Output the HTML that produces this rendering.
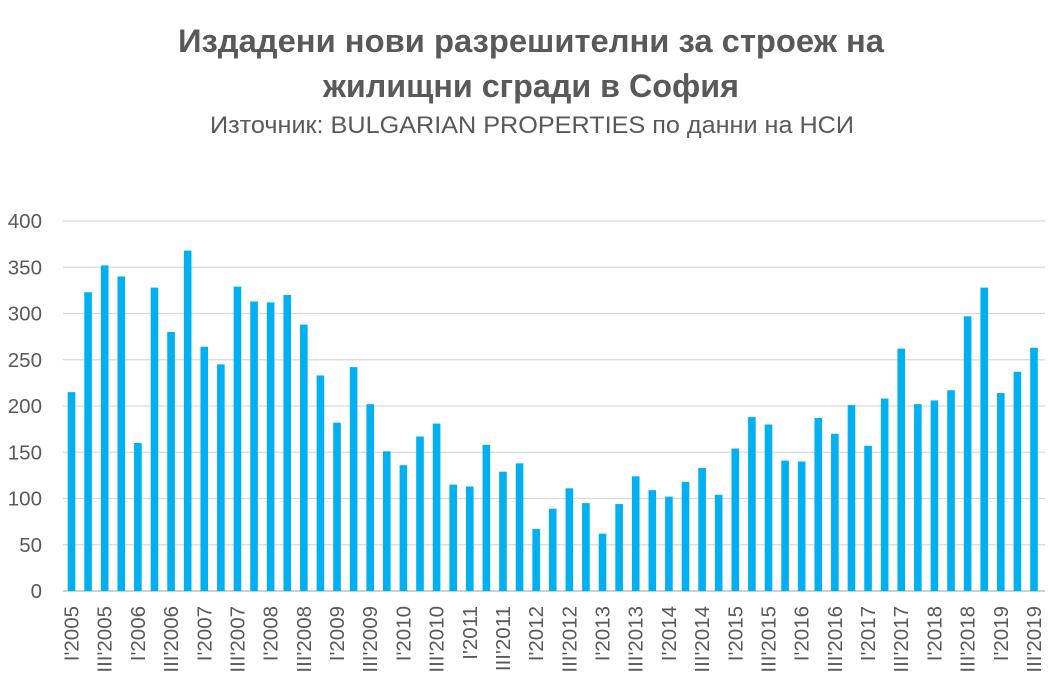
<!DOCTYPE html>
<html><head><meta charset="utf-8"><style>
body{margin:0;background:#fff;}
svg text{font-family:"Liberation Sans","DejaVu Sans",sans-serif;fill:#595959;}
</style></head><body>
<svg width="1063" height="695" xmlns="http://www.w3.org/2000/svg">
<text x="531" y="52" text-anchor="middle" font-size="32.5" font-weight="bold" textLength="706" lengthAdjust="spacingAndGlyphs">Издадени нови разрешителни за строеж на</text>
<text x="531" y="97" text-anchor="middle" font-size="32.5" font-weight="bold" textLength="416" lengthAdjust="spacingAndGlyphs">жилищни сгради в София</text>
<text x="532" y="133" text-anchor="middle" font-size="24" textLength="644" lengthAdjust="spacingAndGlyphs">Източник: BULGARIAN PROPERTIES по данни на НСИ</text>
<g id="g"></g>
</svg>
<script>
const v=[215,323,352,340,160,328,280,368,264,245,329,313,312,320,288,233,182,242,202,151,136,167,181,115,113,158,129,138,67,89,111,95,62,94,124,109,102,118,133,104,154,188,180,141,140,187,170,201,157,208,262,202,206,217,297,328,214,237,263];
const g=document.getElementById('g');let s='';
const y0=591,k=370/400;
for(let i=0;i<=8;i++){const y=y0-i*50*k;s+=`<line x1="63" x2="1045" y1="${y}" y2="${y}" stroke="${i?'#d9d9d9':'#d0d0d0'}" stroke-width="${i?1.3:2}"/><text x="42" y="${y+7}" text-anchor="end" font-size="20.5">${i*50}</text>`;}
const step=(1034-71.5)/58;
v.forEach((d,i)=>{const cx=71.5+i*step;s+=`<rect x="${cx-3.8}" y="${y0-d*k}" width="7.6" height="${d*k}" fill="#00b0f0"/>`;
if(i%2==0){const q=i%4==0?'I':'III';const yr=2005+Math.floor(i/4);s+=`<text transform="translate(${cx+7},606) rotate(-90)" text-anchor="end" font-size="20.5">${q}'${yr}</text>`;}});
g.innerHTML=s;
</script>
</body></html>
